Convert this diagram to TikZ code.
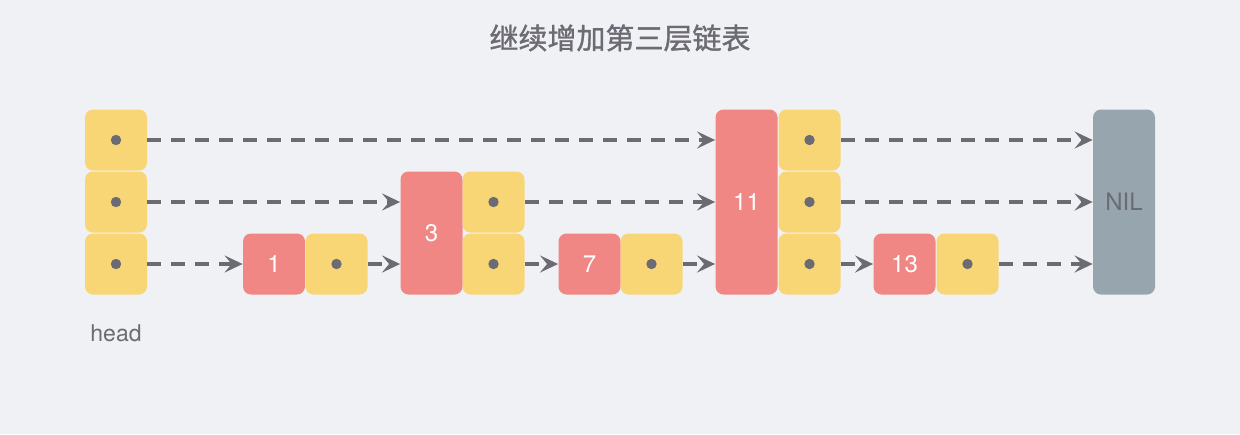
\documentclass[tikz,border=0pt]{standalone}
\usepackage{fontspec}
\setmainfont{TeX Gyre Heros}
\newfontfamily\cjkfont[FakeBold=1.2]{Noto Sans CJK SC}
\usetikzlibrary{arrows.meta}

\definecolor{bgcol}{HTML}{F0F1F5}
\definecolor{ptrcol}{HTML}{F8D676}
\definecolor{keycol}{HTML}{F08784}
\definecolor{nilcol}{HTML}{97A6AE}
\definecolor{inkcol}{HTML}{6C6B74}

\tikzset{
  ptr/.style={fill=ptrcol, rounded corners=4pt, minimum width=31pt, minimum height=30.5pt, inner sep=0pt,
    path picture={\fill[inkcol] (path picture bounding box.center) circle (2.6pt);}},
  key/.style={fill=keycol, rounded corners=4pt, minimum width=31pt, inner sep=0pt, text=white,
    font=\fontsize{12}{14}\selectfont},
  link/.style={draw=inkcol, line width=2pt, dash pattern=on 7pt off 5pt,
    -{Stealth[length=9pt, width=8.5pt, inset=3.5pt]}},
}

\begin{document}
\begin{tikzpicture}[x=0.5pt, y=-0.5pt]
    \useasboundingbox[fill=bgcol] (0,0) rectangle (1240,434);
    \node[font=\cjkfont\fontsize{14.5}{17}\selectfont, text=inkcol] (title) at (620,38) {继续增加第三层链表};
    % head column
    \node[ptr] (h1) at (116,140) {};
    \node[ptr] (h2) at (116,202) {};
    \node[ptr] (h3) at (116,264) {};
    \node[text=inkcol, font=\fontsize{11.5}{14}\selectfont] (head) at (116,333) {head};
    % node 1
    \node[key, minimum height=30.5pt] (k1) at (274,264) {1};
    \node[ptr] (p1) at (336.5,264) {};
    % node 3
    \node[key, minimum height=61.5pt] (k3) at (431.5,233) {3};
    \node[ptr] (p3b) at (493.5,202) {};
    \node[ptr] (p3c) at (493.5,264) {};
    % node 7
    \node[key, minimum height=30.5pt] (k7) at (589.5,264) {7};
    \node[ptr] (p7) at (651.5,264) {};
    % node 11
    \node[key, minimum height=92.5pt] (k11) at (746.5,202) {11};
    \node[ptr] (p11a) at (809.5,140) {};
    \node[ptr] (p11b) at (809.5,202) {};
    \node[ptr] (p11c) at (809.5,264) {};
    % node 13
    \node[key, minimum height=30.5pt] (k13) at (904.5,264) {13};
    \node[ptr] (p13) at (967.5,264) {};
    % tail
    \node[key, fill=nilcol, text=inkcol, minimum height=92.5pt] (nil) at (1124,202) {NIL};
    % level 3
    \draw[link] (h1.east) -- (k11.west |- h1.east);
    \draw[link] (p11a.east) -- (nil.west |- p11a.east);
    % level 2
    \draw[link] (h2.east) -- (k3.west |- h2.east);
    \draw[link] (p3b.east) -- (k11.west |- p3b.east);
    \draw[link] (p11b.east) -- (nil.west |- p11b.east);
    % level 1
    \draw[link] (h3.east) -- (k1.west);
    \draw[link] (p1.east) -- (k3.west |- p1.east);
    \draw[link] (p3c.east) -- (k7.west);
    \draw[link] (p7.east) -- (k11.west |- p7.east);
    \draw[link] (p11c.east) -- (k13.west);
    \draw[link] (p13.east) -- (nil.west |- p13.east);
\end{tikzpicture}
\end{document}
